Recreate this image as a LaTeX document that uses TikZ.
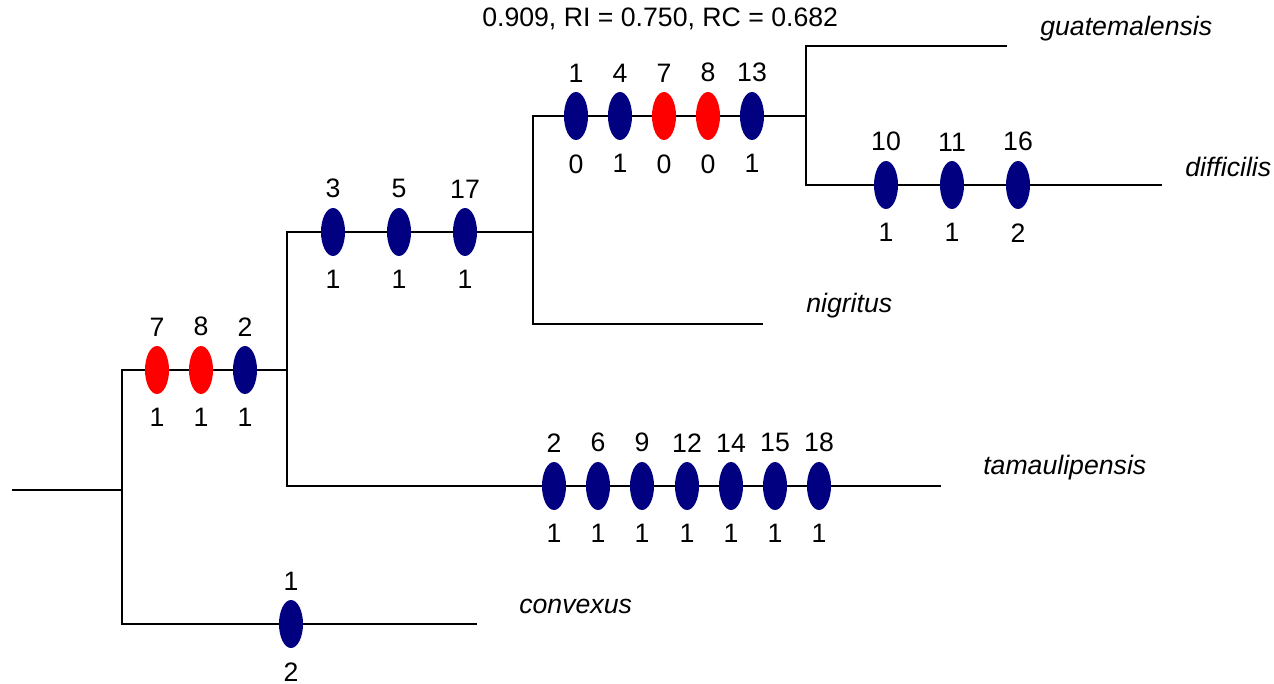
\documentclass[tikz,border=0pt]{standalone}
\usepackage{fontspec}
\setmainfont{Liberation Sans}
\usetikzlibrary{shapes.geometric}
\definecolor{apoblue}{RGB}{0,0,128}
\definecolor{homred}{RGB}{255,0,0}

\begin{document}
\begin{tikzpicture}[
    x=0.75pt, y=-0.75pt,
    font=\fontsize{20}{24}\selectfont,
    branch/.style={line width=1.5pt},
    num/.style={inner sep=0pt},
    apo/.style args={#1/#2}{ellipse, fill=apoblue, minimum width=18pt,
                 minimum height=36pt, inner sep=0pt,
                 label={[num, label distance=7pt]above:#1},
                 label={[num, label distance=10.5pt]below:#2}},
    hom/.style args={#1/#2}{apo=#1/#2, fill=homred},
    taxon/.style={anchor=base west, inner sep=0pt,
                  font=\fontsize{20}{24}\selectfont\itshape}
]
    \useasboundingbox (0,0) rectangle (1274,684);

    % Internal nodes and tips
    \coordinate (root) at (12,490);
    \coordinate (n1) at (122,490);
    \coordinate (n2) at (287,370);
    \coordinate (n3) at (533,232);
    \coordinate (n4) at (806,116);
    \coordinate (guat) at (1007,46);
    \coordinate (diff) at (1162,185);
    \coordinate (nig) at (763,324);
    \coordinate (tam) at (941,486);
    \coordinate (conv) at (477,624);

    % Branches
    \draw[branch] (root) -- (n1);
    \draw[branch] (n2) -| (n1) |- (conv);
    \draw[branch] (n3) -| (n2) |- (tam);
    \draw[branch] (n4) -| (n3) |- (nig);
    \draw[branch] (guat) -| (n4) |- (diff);

    % Character changes on the branches
    \node[hom=7/1] (a1) at (157,370) {};
    \node[hom=8/1] (a2) at (201,370) {};
    \node[apo=2/1] (a3) at (245,370) {};

    \node[apo=3/1] (b1) at (333,232) {};
    \node[apo=5/1] (b2) at (399,232) {};
    \node[apo=17/1] (b3) at (465,232) {};

    \node[apo=1/0] (c1) at (576,116) {};
    \node[apo=4/1] (c2) at (620,116) {};
    \node[hom=7/0] (c3) at (664,116) {};
    \node[hom=8/0] (c4) at (708,116) {};
    \node[apo=13/1] (c5) at (752,116) {};

    \node[apo=10/1] (d1) at (886,185) {};
    \node[apo=11/1] (d2) at (952,185) {};
    \node[apo=16/2] (d3) at (1018,185) {};

    \node[apo=2/1] (t1) at (554,486) {};
    \node[apo=6/1] (t2) at (598,486) {};
    \node[apo=9/1] (t3) at (642,486) {};
    \node[apo=12/1] (t4) at (687,486) {};
    \node[apo=14/1] (t5) at (731,486) {};
    \node[apo=15/1] (t6) at (775,486) {};
    \node[apo=18/1] (t7) at (819,486) {};

    \node[apo=1/2] (v1) at (291,624) {};

    % Taxon names
    \node[taxon] (lguat) at (1040,36) {guatemalensis};
    \node[taxon] (ldiff) at (1185,177) {difficilis};
    \node[taxon] (lnig) at (806,312) {nigritus};
    \node[taxon] (ltam) at (983,474) {tamaulipensis};
    \node[taxon] (lconv) at (519,613) {convexus};

    % Tree statistics
    \node[anchor=base west, inner sep=0pt] (stats) at (482,27)
        {0.909, RI = 0.750, RC = 0.682};
\end{tikzpicture}
\end{document}
